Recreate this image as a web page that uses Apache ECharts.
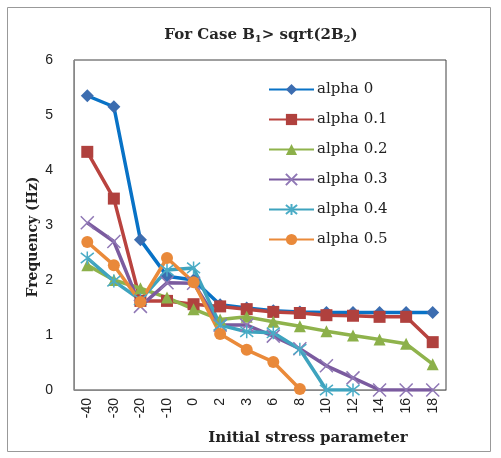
<!DOCTYPE html>
<html>
<head>
<meta charset="utf-8">
<script src="https://cdn.jsdelivr.net/npm/echarts@6/dist/echarts.min.js"></script>
<style>
html, body { margin: 0; padding: 0; background: #fff; }
#chart { width: 501px; height: 458px; }
</style>
</head>
<body>
<div id="chart"></div>
<script>
// categories (initial stress parameter)
var stressParams = ['-40', '-30', '-20', '-10', '0', '2', '3', '6', '8', '10', '12', '14', '16', '18'];
var yTicks = [0, 1, 2, 3, 4, 5, 6];

// frequency values
var alpha0 = [5.35, 5.15, 2.73, 2.07, 2.0, 1.55, 1.49, 1.44, 1.42, 1.41, 1.41, 1.41, 1.41, 1.41];
var alpha01 = [4.33, 3.48, 1.62, 1.62, 1.56, 1.52, 1.47, 1.42, 1.4, 1.36, 1.35, 1.33, 1.33, 0.87];
var alpha02 = [2.27, 2.0, 1.85, 1.68, 1.47, 1.28, 1.33, 1.24, 1.16, 1.07, 0.99, 0.92, 0.84, 0.47];
var alpha03 = [3.04, 2.7, 1.52, 1.95, 1.94, 1.18, 1.18, 0.98, 0.75, 0.44, 0.22, 0, 0, 0];
var alpha04 = [2.4, 1.98, 1.64, 2.18, 2.22, 1.18, 1.06, 1.04, 0.74, 0, 0, null, null, null];
var alpha05 = [2.69, 2.27, 1.6, 2.4, 1.96, 1.02, 0.73, 0.51, 0.02, null, null, null, null, null];

var legendNames = ['alpha 0', 'alpha 0.1', 'alpha 0.2', 'alpha 0.3', 'alpha 0.4', 'alpha 0.5'];

var symX = 'path://M0,0L10,10M10,0L0,10';
var symStar = 'path://M5,0L5,10M1,1L9,9M9,1L1,9';

var serif = '"DejaVu Serif", "Liberation Serif", serif';

function mkSeries(name, data, lineColor, markColor, symbol, size, stroked) {
    return {
        name: name,
        type: 'line',
        data: data,
        symbol: symbol,
        symbolSize: size,
        showAllSymbol: true,
        connectNulls: false,
        lineStyle: { color: lineColor, width: 3.5 },
        itemStyle: stroked ? { color: markColor, borderColor: markColor, borderWidth: 1.5 } : { color: markColor },
        emphasis: { disabled: true }
    };
}

var myChart = echarts.init(document.getElementById('chart'));
var option = {
    animation: false,
    backgroundColor: '#fff',
    title: {
        text: 'For Case B{sub|1}> sqrt(2B{sub|2})',
        left: 256,
        textAlign: 'center',
        top: 22,
        textStyle: {
            fontFamily: serif,
            fontWeight: 'bold',
            fontSize: 15,
            color: '#262626',
            rich: {
                sub: { fontFamily: serif, fontWeight: 'bold', fontSize: 10, color: '#262626', verticalAlign: 'bottom', padding: [7, 0, 0, 0] }
            }
        }
    },
    legend: {
        orient: 'vertical',
        left: 263,
        top: 77,
        itemWidth: 45,
        itemHeight: 14,
        itemGap: 15,
        data: legendNames,
        textStyle: { fontFamily: serif, fontSize: 15, color: '#222', padding: [0, 0, 0, -2] }
    },
    grid: {
        left: 74,
        right: 55,
        top: 60,
        bottom: 68,
        show: true,
        borderColor: '#404040',
        borderWidth: 1
    },
    xAxis: {
        type: 'category',
        data: stressParams,
        boundaryGap: true,
        axisLine: { lineStyle: { color: '#888' } },
        axisTick: { show: false },
        axisLabel: {
            rotate: 90,
            margin: 8,
            fontFamily: '"Liberation Sans", Arial, sans-serif',
            fontSize: 14,
            color: '#222'
        }
    },
    yAxis: {
        type: 'value',
        min: yTicks[0],
        max: yTicks[yTicks.length - 1],
        interval: 1,
        splitLine: { show: false },
        axisLine: { show: true, lineStyle: { color: '#888' } },
        axisTick: { show: false },
        axisLabel: {
            margin: 21,
            fontFamily: '"Liberation Sans", Arial, sans-serif',
            fontSize: 14,
            color: '#222'
        }
    },
    graphic: [
        {
            type: 'rect',
            shape: { x: 7.5, y: 7.5, width: 483, height: 444 },
            style: { fill: 'none', stroke: '#999', lineWidth: 1 },
            silent: true,
            z: -1
        },
        {
            type: 'text',
            x: 33,
            y: 237,
            rotation: Math.PI / 2,
            style: {
                text: 'Frequency (Hz)',
                font: 'bold 14px ' + serif,
                fill: '#222',
                align: 'center',
                verticalAlign: 'middle'
            }
        },
        {
            type: 'text',
            x: 308,
            y: 438,
            style: {
                text: 'Initial stress parameter',
                font: 'bold 15px ' + serif,
                fill: '#222',
                align: 'center',
                verticalAlign: 'middle'
            }
        }
    ],
    series: [
        mkSeries(legendNames[0], alpha0, '#0872C6', '#3C6DB0', 'diamond', 13, false),
        mkSeries(legendNames[1], alpha01, '#B9433F', '#B0413E', 'rect', 12, false),
        mkSeries(legendNames[2], alpha02, '#8FB34C', '#8CB04A', 'triangle', 12, false),
        mkSeries(legendNames[3], alpha03, '#7B5B9F', '#8F77B5', symX, 13, true),
        mkSeries(legendNames[4], alpha04, '#3EA3BE', '#4BACC6', symStar, 13, true),
        mkSeries(legendNames[5], alpha05, '#EA8A3A', '#E9893A', 'circle', 12, false)
    ]
};
myChart.setOption(option);
</script>
</body>
</html>
